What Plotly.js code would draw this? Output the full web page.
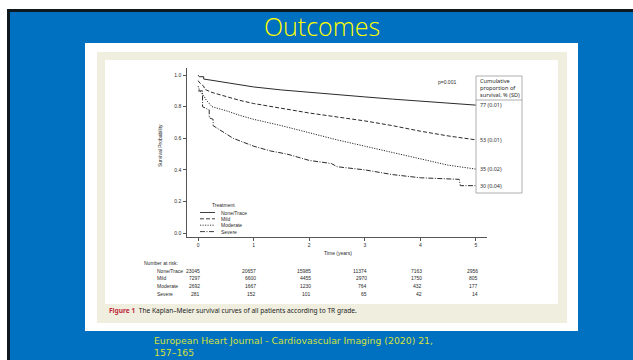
<!DOCTYPE html>
<html>
<head>
<meta charset="utf-8">
<script src="https://cdn.plot.ly/plotly-3.0.1.min.js"></script>
<style>html,body{margin:0;padding:0;background:#fff;}#chart{width:633px;height:360px;}</style>
</head>
<body>
<div id="chart"></div>
<script>
// ---- Data ----
const seriesNames = ['None/Trace', 'Mild', 'Moderate', 'Severe'];

const timeNone = [0, 0.02, 0.1, 0.1, 0.25, 0.5, 0.75, 1, 1.5, 2, 2.5, 3, 3.5, 4, 4.5, 5];
const survNone = [1.0, 0.99, 0.99, 0.975, 0.967, 0.952, 0.938, 0.925, 0.906, 0.89, 0.875, 0.862, 0.848, 0.835, 0.822, 0.81];

const timeMild = [0, 0.03, 0.1, 0.12, 0.25, 0.5, 0.75, 1, 1.5, 2, 2.5, 3, 3.5, 4, 4.5, 5];
const survMild = [0.965, 0.95, 0.93, 0.91, 0.89, 0.865, 0.84, 0.82, 0.79, 0.76, 0.735, 0.71, 0.68, 0.645, 0.615, 0.59];

const timeModerate = [0, 0.03, 0.1, 0.15, 0.25, 0.5, 0.75, 1, 1.5, 2, 2.5, 3, 3.5, 4, 4.5, 5];
const survModerate = [0.93, 0.9, 0.87, 0.84, 0.80, 0.775, 0.745, 0.72, 0.68, 0.635, 0.59, 0.55, 0.51, 0.47, 0.43, 0.405];

const timeSevere = [0, 0.08, 0.08, 0.2, 0.2, 0.27, 0.27, 0.4, 0.63, 1, 1.3, 1.6, 2, 2.4, 2.5, 3, 3.5, 4, 4.7, 4.72, 5];
const survSevere = [0.90, 0.90, 0.80, 0.78, 0.73, 0.72, 0.68, 0.65, 0.60, 0.55, 0.52, 0.50, 0.46, 0.44, 0.42, 0.40, 0.37, 0.35, 0.34, 0.30, 0.30];

const finalLabels = ['77 (0.01)', '53 (0.01)', '35 (0.02)', '30 (0.04)'];

const yearTicks = [0, 1, 2, 3, 4, 5];
const survTicks = [0, 0.2, 0.4, 0.6, 0.8, 1.0];

const atRiskNone = [23045, 20657, 15985, 11374, 7163, 2956];
const atRiskMild = [7297, 6600, 4455, 2970, 1750, 805];
const atRiskModerate = [2692, 1667, 1230, 764, 432, 177];
const atRiskSevere = [281, 152, 101, 65, 42, 14];

const pValueText = 'p=0.001';
const boxHeaderLines = ['Cumulative', 'proportion of', 'survival, % (SD)'];
const slideTitle = 'Outcomes';
const captionText = "<span style='color:#c0283a'><b>Figure 1</b></span>  The Kaplan–Meier survival curves of all patients according to TR grade.";
const citeLines = ['European Heart Journal - Cardiovascular Imaging (2020) 21,', '157–165'];

// ---- Layout helpers ----
const W = 633, H = 360;
const X = p => p / W;
const Y = p => 1 - p / H;
const ink = '#2a2a2a';
const chartFont = 'Liberation Sans, Arial, sans-serif';
const dashes = ['solid', '4px,2px', '1.2px,1.3px', '5px,1.5px,1px,1.5px'];

const times = [timeNone, timeMild, timeModerate, timeSevere];
const survs = [survNone, survMild, survModerate, survSevere];
const atRisk = [atRiskNone, atRiskMild, atRiskModerate, atRiskSevere];

const traces = seriesNames.map((n, i) => ({
  type: 'scatter', mode: 'lines', name: n,
  x: times[i], y: survs[i],
  line: {color: ink, width: 1, dash: dashes[i]},
  hoverinfo: 'skip', showlegend: false
}));

const rect = (x0, y0, x1, y1, fill, extra) => Object.assign({
  type: 'rect', xref: 'paper', yref: 'paper',
  x0: X(x0), y0: Y(y1), x1: X(x1), y1: Y(y0),
  fillcolor: fill, line: {width: 0}, layer: 'below'
}, extra || {});

const shapes = [
  rect(7, 9, 640, 370, '#101820'),
  rect(10, 12, 640, 370, '#0070C0'),
  rect(85, 43, 578, 331, '#ffffff'),
  rect(97, 52, 567, 323, '#F0EEDF'),
  rect(105, 60, 558, 304, '#ffffff'),
  {type: 'rect', xref: 'paper', yref: 'paper', x0: X(476), x1: X(522), y0: Y(193), y1: Y(76),
   line: {color: '#9a9a9a', width: 0.8}, fillcolor: 'rgba(0,0,0,0)', layer: 'above'},
  {type: 'line', xref: 'paper', yref: 'paper', x0: X(476), x1: X(522), y0: Y(100), y1: Y(100),
   line: {color: '#9a9a9a', width: 0.8}, layer: 'above'}
];

const legendRows = [212.5, 218.8, 225.2, 231.6];
seriesNames.forEach((n, i) => {
  shapes.push({type: 'line', xref: 'paper', yref: 'paper', x0: X(200), x1: X(215),
    y0: Y(legendRows[i]), y1: Y(legendRows[i]), line: {color: ink, width: 0.9, dash: dashes[i]}, layer: 'above'});
});

const txt = (text, x, y, opts) => Object.assign({
  text: text, xref: 'paper', yref: 'paper', x: X(x), y: Y(y),
  showarrow: false, xanchor: 'center', yanchor: 'middle',
  font: {family: chartFont, size: 5, color: ink}
}, opts || {});

const annotations = [
  txt(slideTitle, 322, 26, {font: {family: 'Open Sans, sans-serif', size: 25, weight: 300, color: '#FFFF00'}}),
  txt(pValueText, 447, 82),
  txt('Survival Probability', 160, 146, {textangle: -90}),
  txt('Time (years)', 338, 253),
  txt('Treatment', 223, 204.5),
  txt('Number at risk:', 142, 262.5, {xanchor: 'left'}),
  txt(captionText, 107, 310, {xanchor: 'left', font: {family: 'Noto Sans, sans-serif', size: 6.6, color: '#222'}})
];

boxHeaderLines.forEach((l, i) => {
  annotations.push(txt(l, 477.5, 81.5 + i * 6.6, {xanchor: 'left',
    font: {family: 'Noto Sans, sans-serif', size: 5.6, color: ink}}));
});

seriesNames.forEach((n, i) => {
  annotations.push(txt(n, 218.5, legendRows[i], {xanchor: 'left'}));
  // final cumulative label at curve end
  annotations.push({text: finalLabels[i], xref: 'x', yref: 'y', x: 5, y: survs[i][survs[i].length - 1],
    xanchor: 'left', yanchor: 'middle', xshift: 2.5, showarrow: false,
    font: {family: 'Noto Sans, sans-serif', size: 5.4, color: ink}});
});

const riskRows = [271, 278.3, 286, 293.7];
seriesNames.forEach((n, i) => {
  annotations.push(txt(n, 155, riskRows[i], {xanchor: 'left'}));
  yearTicks.forEach((t, j) => {
    annotations.push({text: String(atRisk[i][j]), xref: 'x', yref: 'paper', x: t, y: Y(riskRows[i]),
      xanchor: 'right', yanchor: 'middle', xshift: 4, showarrow: false,
      font: {family: chartFont, size: 5, color: ink}});
  });
});

citeLines.forEach((l, i) => {
  annotations.push(txt(l, 152, 340 + i * 12.5, {xanchor: 'left',
    font: {family: 'DejaVu Sans, Verdana, sans-serif', size: 9.3, color: '#d2e23c'}}));
});

const axisCommon = {
  showline: true, linecolor: ink, linewidth: 0.8, mirror: false,
  ticks: 'outside', ticklen: 3, tickwidth: 0.8, tickcolor: ink,
  tickfont: {family: chartFont, size: 5, color: ink},
  showgrid: false, zeroline: false, fixedrange: true
};

const layout = {
  width: W, height: H,
  margin: {l: 0, r: 0, t: 0, b: 0},
  paper_bgcolor: '#ffffff', plot_bgcolor: 'rgba(0,0,0,0)',
  showlegend: false,
  xaxis: Object.assign({}, axisCommon, {domain: [X(187), X(487)], range: [-0.2, 5.2], tickvals: yearTicks}),
  yaxis: Object.assign({}, axisCommon, {domain: [Y(237), Y(68)], range: [-0.025, 1.045], tickvals: survTicks, tickformat: '.1f', ticklabelstandoff: 1}),
  shapes: shapes,
  annotations: annotations
};

Plotly.newPlot('chart', traces, layout, {displayModeBar: false, staticPlot: true});
</script>
</body>
</html>
